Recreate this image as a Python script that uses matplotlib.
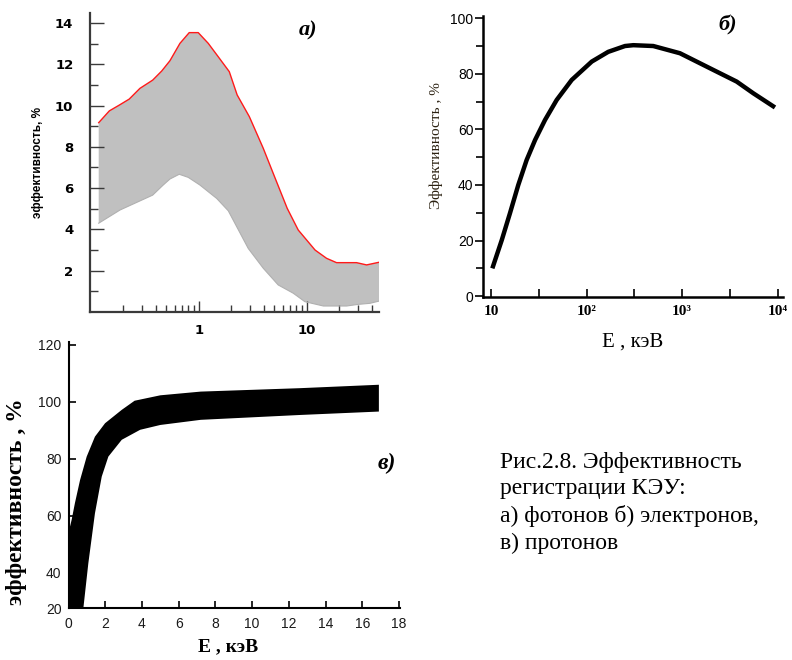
import matplotlib
matplotlib.use('Agg')
import matplotlib.pyplot as plt
from matplotlib.ticker import FixedLocator, NullFormatter, FixedFormatter
import numpy as np

# ---------------- data ----------------
# panel a) photons: band of efficiency (%) vs E (keV), log x
a_upper_E = [0.118, 0.148, 0.183, 0.226, 0.284, 0.373, 0.452, 0.539, 0.667, 0.813, 0.985,
             1.22, 1.51, 1.91, 2.26, 2.93, 3.94, 5.16, 6.57, 8.31, 11.9, 15.2, 18.8, 28.8, 35.7, 46.7]
a_upper_eff = [9.17, 9.74, 10.02, 10.31, 10.83, 11.23, 11.67, 12.17, 13.01, 13.53, 13.53,
               13.01, 12.36, 11.64, 10.51, 9.46, 7.93, 6.39, 5.02, 3.97, 3.0, 2.6, 2.39, 2.39, 2.28, 2.41]
a_lower_E = [0.118, 0.186, 0.373, 0.467, 0.539, 0.657, 0.796, 1.02, 1.46, 1.87, 2.86, 3.94,
             5.42, 7.47, 9.57, 14.2, 23.3, 29.9, 38.3, 46.7]
a_lower_eff = [4.30, 4.94, 5.66, 6.15, 6.44, 6.67, 6.52, 6.15, 5.5, 4.90, 3.08, 2.12,
               1.31, 0.91, 0.50, 0.29, 0.29, 0.37, 0.42, 0.53]
a_yticks = [2, 4, 6, 8, 10, 12, 14]
a_xticks = [1, 10]
a_xticklabels = ['1', '10']

# panel б) electrons
b_E = [10.27, 12.9, 15.7, 19.2, 23.5, 28.8, 36.6, 48.5, 69.7, 113, 168, 252, 308, 498, 948,
       2118, 3724, 5559, 9376]
b_eff = [10.0, 20.2, 29.8, 40.0, 49.0, 56.2, 63.4, 70.6, 77.8, 84.4, 87.9, 90.0, 90.3, 90.0, 87.4,
         81.4, 77.2, 73.0, 67.9]
b_yticks = [0, 20, 40, 60, 80, 100]
b_xticks = [10, 10**1.5, 100, 10**2.5, 1000, 10**3.5, 10000]
b_xticklabels = ['10', '', '10²', '', '10³', '', '10⁴']

# panel в) protons: band
c_upper_E = [0.0, 0.08, 0.17, 0.35, 0.63, 0.99, 1.44, 1.99, 2.9, 3.6, 5.0, 7.2, 12.6, 16.9]
c_upper_eff = [55.0, 56.1, 58.5, 64.4, 72.5, 80.7, 87.7, 92.4, 97.1, 100.3, 102.2, 103.5, 104.7, 105.9]
c_lower_E = [0.0, 0.8, 1.08, 1.44, 1.81, 2.17, 2.9, 3.9, 5.0, 7.2, 12.6, 16.9]
c_lower_eff = [27.0, 27.0, 43.3, 60.8, 73.7, 80.7, 86.6, 90.1, 91.8, 93.6, 95.3, 96.5]
c_ytick_pos = [27.5, 40, 60, 80, 100, 120]
c_yticklabels = ['20', '40', '60', '80', '100', '120']
c_xticks = [0, 2, 4, 6, 8, 10, 12, 14, 16, 18]

caption = "Рис.2.8. Эффективность\nрегистрации КЭУ:\nа) фотонов б) электронов,\nв) протонов"

# ---------------- figure ----------------
W, H = 792, 660
fig = plt.figure(figsize=(W / 100, H / 100), dpi=100)

def frac(left, top, right, bottom):
    return [left / W, 1 - bottom / H, (right - left) / W, (bottom - top) / H]

def ftext(x, y, s, **kw):
    return fig.text(x / W, 1 - y / H, s, **kw)

SANS = ['Liberation Sans', 'DejaVu Sans']
SERIF = ['Liberation Serif', 'DejaVu Serif']

# ---- panel a ----
aL, aT, aR, aB = 90, 13, 379, 312
axa = fig.add_axes(frac(aL, aT, aR, aB))
axa.fill(np.concatenate([a_upper_E, a_lower_E[::-1]]),
         np.concatenate([a_upper_eff, a_lower_eff[::-1]]),
         color='#c0c0c0', lw=0)
axa.plot(a_upper_E, a_upper_eff, color='#ff1a1a', lw=1.0)
axa.plot(a_lower_E, a_lower_eff, color='#b0b0b0', lw=0.8)
axa.set_xscale('log')
axa.set_xlim(0.098, 46.5)
axa.set_ylim(0, 14.48)
for s in ['top', 'right']:
    axa.spines[s].set_visible(False)
for s in ['left', 'bottom']:
    axa.spines[s].set_color('#3a3a3a')
    axa.spines[s].set_linewidth(1.6)
axa.set_yticks(a_yticks)
axa.yaxis.set_minor_locator(FixedLocator([1, 3, 5, 7, 9, 11, 13]))
axa.set_xticks(a_xticks)
axa.set_xticklabels(a_xticklabels)
minor_a = [m * 10.0**d for d in (-1, 0, 1) for m in range(2, 10) if m * 10.0**d < 46]
axa.xaxis.set_minor_locator(FixedLocator(minor_a))
axa.xaxis.set_minor_formatter(NullFormatter())
axa.tick_params(axis='y', which='major', direction='in', length=10, width=1.0, color='#3a3a3a', pad=12)
axa.tick_params(axis='y', which='minor', direction='in', length=6, width=1.0, color='#3a3a3a')
axa.tick_params(axis='x', which='major', direction='in', length=8, width=1.0, color='#3a3a3a', pad=9)
axa.tick_params(axis='x', which='minor', direction='in', length=5, width=1.0, color='#3a3a3a')
for lab in axa.get_xticklabels() + axa.get_yticklabels():
    lab.set_fontfamily(['DejaVu Sans'])
    lab.set_fontweight('bold')
    lab.set_fontsize(9.5)
axa.set_xlabel('E , кэВ', fontfamily=['DejaVu Sans'], fontweight='bold', fontsize=8.5)
axa.xaxis.set_label_coords((260 - aL) / (aR - aL), -(344 - aB) / (aB - aT))
axa.set_ylabel('эффективность, %', fontfamily=['Liberation Sans Narrow', 'Liberation Sans', 'DejaVu Sans'],
               fontweight='bold', fontsize=8.5)
axa.yaxis.set_label_coords(-(aL - 44) / (aR - aL), (aB - 163) / (aB - aT))
ftext(308, 30, 'а)', fontsize=16, fontweight='bold', fontstyle='italic',
      fontfamily=SERIF, ha='center', va='center')

# ---- panel б ----
bL, bT, bR, bB = 483.3, 16, 783, 297
axb = fig.add_axes(frac(bL, bT, bR, bB))
axb.plot(b_E, b_eff, color='black', lw=3.2, solid_capstyle='butt', solid_joinstyle='round')
axb.set_xscale('log')
axb.set_xlim(8.26, 11380)
axb.set_ylim(-0.3, 100.8)
for s in ['top', 'right']:
    axb.spines[s].set_visible(False)
for s in ['left', 'bottom']:
    axb.spines[s].set_linewidth(1.8)
axb.set_yticks(b_yticks)
axb.yaxis.set_minor_locator(FixedLocator([10, 30, 50, 70, 90]))
axb.set_xticks(b_xticks)
axb.set_xticklabels(b_xticklabels)
axb.xaxis.set_minor_locator(FixedLocator([]))
axb.tick_params(axis='y', which='major', direction='out', length=6, width=1.2, pad=1)
axb.tick_params(axis='y', which='minor', direction='out', length=5, width=1.2)
axb.tick_params(axis='x', which='major', direction='in', length=6, width=1.2, pad=6)
for lab in axb.get_yticklabels():
    lab.set_fontfamily(SANS)
    lab.set_fontsize(10)
for lab in axb.get_xticklabels():
    lab.set_fontfamily(SERIF)
    lab.set_fontweight('bold')
    lab.set_fontsize(11)
axb.set_xlabel('E , кэВ', fontfamily=SERIF, fontsize=15)
axb.xaxis.set_label_coords((633 - bL) / (bR - bL), -(333 - bB) / (bB - bT))
axb.set_ylabel('Эффективность , %', fontfamily=SERIF, fontsize=11, color='#2a2010')
axb.yaxis.set_label_coords(-(bL - 443) / (bR - bL), (bB - 146) / (bB - bT))
ftext(728, 25, 'б)', fontsize=16, fontweight='bold', fontstyle='italic',
      fontfamily=SERIF, ha='center', va='center')

# ---- panel в ----
cL, cT, cR, cB = 68.5, 341.7, 400, 608.3
axc = fig.add_axes(frac(cL, cT, cR, cB))
axc.fill(np.concatenate([c_upper_E, c_lower_E[::-1]]),
         np.concatenate([c_upper_eff, c_lower_eff[::-1]]),
         color='black', lw=0)
axc.set_xlim(0, 18.05)
axc.set_ylim(27.5, 121)
for s in ['top', 'right']:
    axc.spines[s].set_visible(False)
for s in ['left', 'bottom']:
    axc.spines[s].set_linewidth(1.5)
axc.yaxis.set_major_locator(FixedLocator(c_ytick_pos))
axc.yaxis.set_major_formatter(FixedFormatter(c_yticklabels))
axc.set_xticks(c_xticks)
axc.tick_params(axis='y', direction='in', length=5, width=1.2, pad=5)
axc.tick_params(axis='x', direction='in', length=5, width=1.2, pad=6)
for lab in axc.get_xticklabels() + axc.get_yticklabels():
    lab.set_fontfamily(SANS)
    lab.set_fontsize(10)
    lab.set_color('#1a1a1a')
axc.set_xlabel('E , кэВ', fontfamily=SERIF, fontweight='bold', fontsize=14)
axc.xaxis.set_label_coords((228 - cL) / (cR - cL), -(638 - cB) / (cB - cT))
axc.set_ylabel('эффективность , %', fontfamily=SERIF, fontweight='bold', fontsize=17)
axc.yaxis.set_label_coords(-(cL - 27) / (cR - cL), (cB - 502) / (cB - cT))
ftext(387, 463, 'в)', fontsize=17, fontweight='bold', fontstyle='italic',
      fontfamily=SERIF, ha='center', va='center')

# ---- caption ----
ftext(500, 452, caption, fontfamily=SERIF, fontsize=17, ha='left', va='top',
      linespacing=1.34)

fig.savefig('out.png', dpi=100)
